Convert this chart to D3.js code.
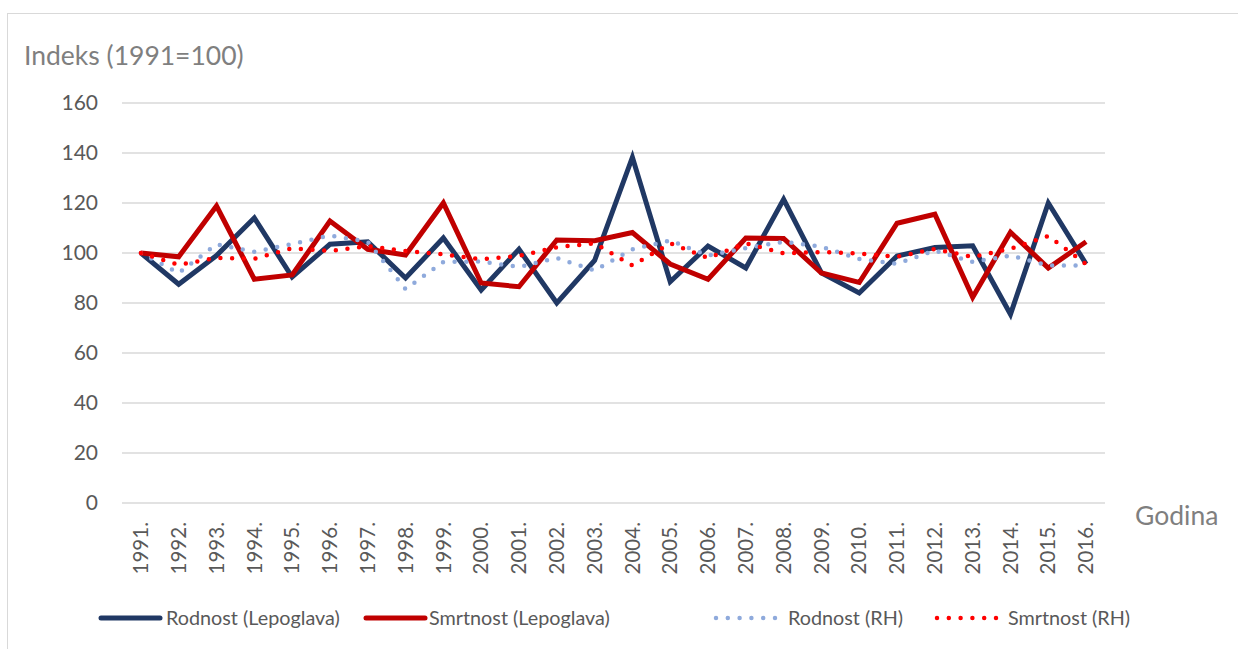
<!DOCTYPE html>
<html>
<head>
<meta charset="utf-8">
<script src="https://cdn.jsdelivr.net/npm/d3@7"></script>
<style>
  body { margin: 0; background: #fff; }
  text { font-family: Lato, "Noto Sans", sans-serif; }
</style>
</head>
<body>
<div id="chart"></div>
<script>
const years = ["1991.", "1992.", "1993.", "1994.", "1995.", "1996.", "1997.", "1998.", "1999.", "2000.",
  "2001.", "2002.", "2003.", "2004.", "2005.", "2006.", "2007.", "2008.", "2009.", "2010.",
  "2011.", "2012.", "2013.", "2014.", "2015.", "2016."];

const rodnostLep = [100, 87.5, 99, 114, 90.4, 103.5, 104.5, 90, 106, 85.2,
  101.5, 80, 97, 138.3, 88.5, 102.8, 94, 121.5, 92, 84,
  98.8, 102.2, 102.9, 75.5, 120, 95.6];
const smrtnostLep = [100, 98.5, 118.8, 89.5, 91.2, 112.8, 101.5, 99.2, 120, 88,
  86.5, 105.2, 104.9, 108.2, 95.6, 89.5, 106, 105.8, 92, 88.2,
  111.9, 115.5, 82.3, 108.3, 94, 104.5];
const rodnostRH = [100, 92, 103.5, 100.5, 103.6, 107, 104.5, 85.6, 96.4, 96.6,
  94.4, 98, 93, 101.5, 105, 99, 102, 104.5, 102.5, 97.6,
  95.7, 101, 96.4, 99, 95, 95];
const smrtnostRH = [100, 95.3, 98, 97.7, 101.9, 100.8, 102.8, 100.8, 99.5, 97.5,
  98.8, 102.3, 103.9, 95, 103.9, 98, 103.9, 99.9, 100.4, 99.8,
  98.5, 101.6, 98.4, 101.7, 106.8, 95.5];
const yTicks = [0, 20, 40, 60, 80, 100, 120, 140, 160];

const series = [
  { name: "Rodnost (Lepoglava)", values: rodnostLep, color: "#203864", dotted: false },
  { name: "Smrtnost (Lepoglava)", values: smrtnostLep, color: "#c00000", dotted: false },
  { name: "Rodnost (RH)", values: rodnostRH, color: "#8faadc", dotted: true },
  { name: "Smrtnost (RH)", values: smrtnostRH, color: "#ff0000", dotted: true }
];

const width = 1238, height = 649;
const svg = d3.select("#chart").append("svg")
  .attr("width", width).attr("height", height);

svg.append("rect")
  .attr("x", 7.5).attr("y", 13.5)
  .attr("width", 1300).attr("height", 700)
  .attr("fill", "none").attr("stroke", "#d9d9d9");

const x = d3.scaleBand().domain(years).range([122, 1105]);
const y = d3.scaleLinear().domain([0, 160]).range([503, 103]);

// gridlines
svg.append("g").selectAll("line")
  .data(yTicks).join("line")
  .attr("x1", 122).attr("x2", 1105)
  .attr("y1", d => y(d)).attr("y2", d => y(d))
  .attr("stroke", "#d9d9d9").attr("stroke-width", 1.5);

// y axis labels
const yAxis = svg.append("g")
  .attr("transform", "translate(122,0)")
  .call(d3.axisLeft(y).tickValues(yTicks).tickSize(0).tickPadding(24));
yAxis.select(".domain").remove();
yAxis.selectAll("text").attr("fill", "#595959").style("font-size", "21px");

// x axis labels
const xAxis = svg.append("g")
  .attr("transform", "translate(0,503)")
  .call(d3.axisBottom(x).tickSize(0));
xAxis.select(".domain").remove();
xAxis.selectAll("text")
  .attr("fill", "#595959").style("font-size", "20.5px")
  .attr("text-anchor", "end")
  .attr("transform", "rotate(-90)")
  .attr("x", -19).attr("y", 0).attr("dy", "0.35em");

svg.append("text")
  .attr("x", 24).attr("y", 65)
  .attr("fill", "#7f7f7f").style("font-size", "26.5px")
  .text("Indeks (1991=100)");

svg.append("text")
  .attr("x", 1135).attr("y", 525)
  .attr("fill", "#7f7f7f").style("font-size", "26.5px")
  .text("Godina");

const line = d3.line()
  .x((d, i) => x(years[i]) + x.bandwidth() / 2)
  .y(d => y(d));

series.forEach(s => {
  const p = svg.append("path")
    .datum(s.values)
    .attr("d", line)
    .attr("fill", "none")
    .attr("stroke", s.color);
  if (s.dotted) {
    p.attr("stroke-width", 4.5)
      .attr("stroke-dasharray", "0 11.7")
      .attr("stroke-linecap", "round");
  } else {
    p.attr("stroke-width", 5)
      .attr("stroke-linejoin", "miter")
      .attr("stroke-miterlimit", 10);
  }
});

// legend
const legendPos = [
  { x1: 101, x2: 160, tx: 166 },
  { x1: 366, x2: 425, tx: 429 },
  { x1: 716, x2: 776, tx: 788 },
  { x1: 937, x2: 997, tx: 1008 }
];
const legend = svg.append("g");
series.forEach((s, i) => {
  const pos = legendPos[i];
  const l = legend.append("line")
    .attr("x1", pos.x1).attr("x2", pos.x2)
    .attr("y1", 618).attr("y2", 618)
    .attr("stroke", s.color)
    .attr("stroke-linecap", "round");
  if (s.dotted) {
    l.attr("stroke-width", 4.5).attr("stroke-dasharray", "0 11.8");
  } else {
    l.attr("stroke-width", 5);
  }
  legend.append("text")
    .attr("x", pos.tx).attr("y", 618).attr("dy", "0.35em")
    .attr("fill", "#595959").style("font-size", "19.8px")
    .text(s.name);
});
</script>
</body>
</html>
